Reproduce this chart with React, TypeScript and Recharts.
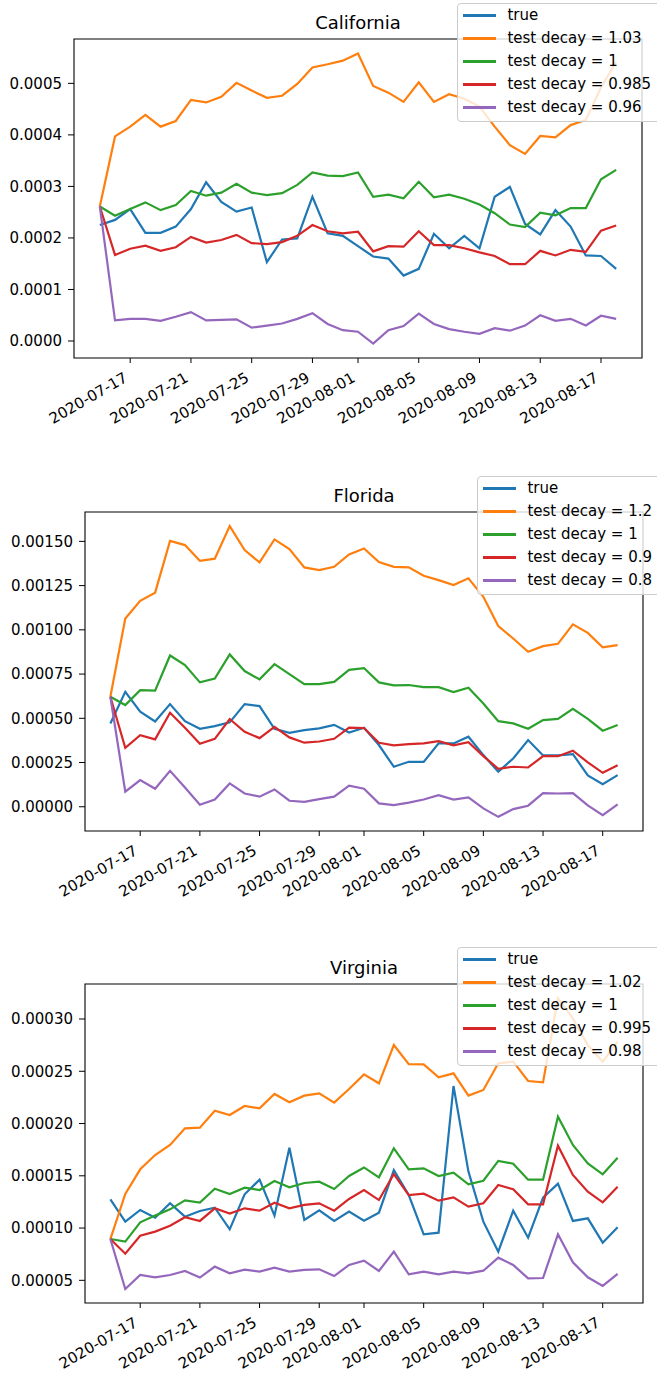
import React from "react"
import { Legend, Line, LineChart, ReferenceArea, XAxis, YAxis } from "recharts"

const dates = [
  "2020-07-15", "2020-07-16", "2020-07-17", "2020-07-18", "2020-07-19", "2020-07-20", "2020-07-21",
  "2020-07-22", "2020-07-23", "2020-07-24", "2020-07-25", "2020-07-26", "2020-07-27", "2020-07-28",
  "2020-07-29", "2020-07-30", "2020-07-31", "2020-08-01", "2020-08-02", "2020-08-03", "2020-08-04",
  "2020-08-05", "2020-08-06", "2020-08-07", "2020-08-08", "2020-08-09", "2020-08-10", "2020-08-11",
  "2020-08-12", "2020-08-13", "2020-08-14", "2020-08-15", "2020-08-16", "2020-08-17", "2020-08-18",
]
const tickLabels = ["2020-07-17", "2020-07-21", "2020-07-25", "2020-07-29", "2020-08-01", "2020-08-05", "2020-08-09", "2020-08-13", "2020-08-17"]

const colors = ["#1f77b4", "#ff7f0e", "#2ca02c", "#d62728", "#9467bd"]

// California
const caNames = ["true", "test decay = 1.03", "test decay = 1", "test decay = 0.985", "test decay = 0.96"]
const caTrue = [2.25e-4, 2.35e-4, 2.56e-4, 2.1e-4, 2.1e-4, 2.22e-4, 2.56e-4, 3.08e-4, 2.7e-4, 2.51e-4, 2.59e-4, 1.53e-4, 1.97e-4, 1.99e-4, 2.8e-4, 2.09e-4, 2.04e-4, 1.84e-4, 1.64e-4, 1.6e-4, 1.27e-4, 1.4e-4, 2.08e-4, 1.8e-4, 2.04e-4, 1.8e-4, 2.8e-4, 2.99e-4, 2.27e-4, 2.07e-4, 2.54e-4, 2.22e-4, 1.66e-4, 1.65e-4, 1.4e-4]
const caHigh = [2.61e-4, 3.97e-4, 4.16e-4, 4.39e-4, 4.16e-4, 4.27e-4, 4.68e-4, 4.63e-4, 4.74e-4, 5.01e-4, 4.86e-4, 4.72e-4, 4.76e-4, 4.99e-4, 5.31e-4, 5.37e-4, 5.44e-4, 5.58e-4, 4.95e-4, 4.82e-4, 4.64e-4, 5.02e-4, 4.64e-4, 4.79e-4, 4.7e-4, 4.55e-4, 4.16e-4, 3.8e-4, 3.63e-4, 3.98e-4, 3.95e-4, 4.19e-4, 4.29e-4, 4.92e-4, 5.42e-4]
const caOne = [2.61e-4, 2.43e-4, 2.56e-4, 2.69e-4, 2.54e-4, 2.64e-4, 2.91e-4, 2.82e-4, 2.88e-4, 3.05e-4, 2.88e-4, 2.83e-4, 2.87e-4, 3.03e-4, 3.27e-4, 3.21e-4, 3.2e-4, 3.27e-4, 2.8e-4, 2.84e-4, 2.77e-4, 3.09e-4, 2.79e-4, 2.84e-4, 2.76e-4, 2.65e-4, 2.48e-4, 2.26e-4, 2.21e-4, 2.49e-4, 2.44e-4, 2.58e-4, 2.58e-4, 3.14e-4, 3.32e-4]
const caMid = [2.61e-4, 1.67e-4, 1.79e-4, 1.85e-4, 1.75e-4, 1.82e-4, 2.02e-4, 1.91e-4, 1.96e-4, 2.06e-4, 1.9e-4, 1.88e-4, 1.92e-4, 2.04e-4, 2.25e-4, 2.13e-4, 2.09e-4, 2.12e-4, 1.74e-4, 1.84e-4, 1.83e-4, 2.13e-4, 1.86e-4, 1.86e-4, 1.8e-4, 1.72e-4, 1.65e-4, 1.49e-4, 1.49e-4, 1.75e-4, 1.66e-4, 1.77e-4, 1.73e-4, 2.14e-4, 2.24e-4]
const caLow = [2.61e-4, 0.4e-4, 0.43e-4, 0.43e-4, 0.39e-4, 0.47e-4, 0.56e-4, 0.4e-4, 0.41e-4, 0.42e-4, 0.26e-4, 0.3e-4, 0.34e-4, 0.43e-4, 0.54e-4, 0.33e-4, 0.21e-4, 0.18e-4, -0.05e-4, 0.21e-4, 0.29e-4, 0.53e-4, 0.33e-4, 0.23e-4, 0.18e-4, 0.14e-4, 0.25e-4, 0.2e-4, 0.3e-4, 0.5e-4, 0.39e-4, 0.43e-4, 0.3e-4, 0.49e-4, 0.43e-4]
const caTicks = [0, 0.0001, 0.0002, 0.0003, 0.0004, 0.0005]

// Florida
const flNames = ["true", "test decay = 1.2", "test decay = 1", "test decay = 0.9", "test decay = 0.8"]
const flTrue = [47.1e-5, 65e-5, 53.7e-5, 48.2e-5, 58e-5, 48.4e-5, 44.1e-5, 45.6e-5, 47.7e-5, 58e-5, 56.9e-5, 44.1e-5, 41.8e-5, 43.3e-5, 44.3e-5, 46.3e-5, 42e-5, 44.7e-5, 34.9e-5, 22.6e-5, 25.4e-5, 25.4e-5, 35.8e-5, 35.8e-5, 39.6e-5, 29.2e-5, 19.8e-5, 27.3e-5, 37.7e-5, 29e-5, 29e-5, 29.8e-5, 17.7e-5, 12.8e-5, 17.9e-5]
const flHigh = [62.2e-5, 106.4e-5, 116.4e-5, 121e-5, 150.3e-5, 147.9e-5, 139e-5, 140.2e-5, 158.6e-5, 145.1e-5, 138.1e-5, 151.1e-5, 145.6e-5, 135.3e-5, 133.8e-5, 135.6e-5, 142.6e-5, 146e-5, 138.3e-5, 135.6e-5, 135.3e-5, 130.6e-5, 128.1e-5, 125.3e-5, 129.1e-5, 118.7e-5, 102.1e-5, 95.1e-5, 87.6e-5, 90.8e-5, 92.1e-5, 103.1e-5, 98.3e-5, 90.1e-5, 91.4e-5]
const flOne = [62.2e-5, 57.5e-5, 65.9e-5, 65.6e-5, 85.5e-5, 80.1e-5, 70.3e-5, 72.5e-5, 86.1e-5, 76.7e-5, 72e-5, 80.6e-5, 75e-5, 69.3e-5, 69.3e-5, 70.6e-5, 77.4e-5, 78.4e-5, 70.3e-5, 68.6e-5, 68.8e-5, 67.6e-5, 67.6e-5, 64.8e-5, 67.3e-5, 58.4e-5, 48.4e-5, 47.1e-5, 44.1e-5, 49e-5, 49.7e-5, 55.4e-5, 49.7e-5, 43e-5, 46.2e-5]
const flMid = [62.2e-5, 33.3e-5, 40.5e-5, 38.1e-5, 53.1e-5, 44.7e-5, 35.6e-5, 38.4e-5, 49.6e-5, 42.4e-5, 38.8e-5, 45.2e-5, 39.2e-5, 36.2e-5, 36.9e-5, 38.4e-5, 44.7e-5, 44.5e-5, 36.2e-5, 34.7e-5, 35.4e-5, 35.8e-5, 37.1e-5, 34.7e-5, 36.5e-5, 28.6e-5, 21.5e-5, 22.6e-5, 22.2e-5, 28.6e-5, 28.6e-5, 31.7e-5, 25.1e-5, 19.2e-5, 23.5e-5]
const flLow = [62.2e-5, 8.5e-5, 15.1e-5, 10.2e-5, 20.3e-5, 10.9e-5, 1.1e-5, 4.1e-5, 13.2e-5, 7.5e-5, 5.7e-5, 9.8e-5, 3.4e-5, 2.8e-5, 4.3e-5, 5.7e-5, 11.9e-5, 10.2e-5, 1.9e-5, 0.9e-5, 2.3e-5, 4.1e-5, 6.6e-5, 4.1e-5, 5.3e-5, -0.9e-5, -5.7e-5, -1.3e-5, 0.6e-5, 7.7e-5, 7.5e-5, 7.7e-5, 0.8e-5, -4.7e-5, 1.3e-5]
const flTicks = [0, 0.00025, 0.0005, 0.00075, 0.001, 0.00125, 0.0015]

// Virginia
const vaNames = ["true", "test decay = 1.02", "test decay = 1", "test decay = 0.995", "test decay = 0.98"]
const vaTrue = [12.75e-5, 10.61e-5, 11.73e-5, 10.99e-5, 12.37e-5, 11.09e-5, 11.63e-5, 11.95e-5, 9.88e-5, 13.23e-5, 14.63e-5, 11.19e-5, 17.69e-5, 10.77e-5, 11.7e-5, 10.68e-5, 11.57e-5, 10.7e-5, 11.47e-5, 15.55e-5, 13.16e-5, 9.4e-5, 9.56e-5, 23.59e-5, 15.4e-5, 10.61e-5, 7.74e-5, 11.66e-5, 9.08e-5, 12.91e-5, 14.25e-5, 10.68e-5, 10.93e-5, 8.6e-5, 10.07e-5]
const vaHigh = [8.95e-5, 13.26e-5, 15.62e-5, 16.99e-5, 17.95e-5, 19.54e-5, 19.6e-5, 21.23e-5, 20.82e-5, 21.68e-5, 21.45e-5, 22.83e-5, 22.03e-5, 22.67e-5, 22.89e-5, 22e-5, 23.3e-5, 24.7e-5, 23.85e-5, 27.51e-5, 25.69e-5, 25.66e-5, 24.42e-5, 24.8e-5, 22.67e-5, 23.21e-5, 25.76e-5, 25.92e-5, 24.07e-5, 23.94e-5, 31.98e-5, 30.06e-5, 27.51e-5, 25.92e-5, 27.83e-5]
const vaOne = [8.95e-5, 8.7e-5, 10.55e-5, 11.19e-5, 11.79e-5, 12.65e-5, 12.43e-5, 13.77e-5, 13.26e-5, 13.86e-5, 13.64e-5, 14.5e-5, 13.9e-5, 14.31e-5, 14.44e-5, 13.74e-5, 14.98e-5, 15.8e-5, 14.85e-5, 17.63e-5, 15.62e-5, 15.71e-5, 14.98e-5, 15.3e-5, 14.18e-5, 14.53e-5, 16.42e-5, 16.16e-5, 14.63e-5, 14.63e-5, 20.66e-5, 17.95e-5, 16.19e-5, 15.14e-5, 16.73e-5]
const vaMid = [8.95e-5, 7.55e-5, 9.27e-5, 9.66e-5, 10.23e-5, 11.03e-5, 10.68e-5, 11.89e-5, 11.38e-5, 11.89e-5, 11.66e-5, 12.43e-5, 11.89e-5, 12.21e-5, 12.37e-5, 11.66e-5, 12.78e-5, 13.64e-5, 12.68e-5, 15.17e-5, 13.16e-5, 13.29e-5, 12.62e-5, 12.94e-5, 12.05e-5, 12.37e-5, 14.12e-5, 13.71e-5, 12.27e-5, 12.27e-5, 17.88e-5, 15.08e-5, 13.48e-5, 12.46e-5, 13.96e-5]
const vaLow = [8.95e-5, 4.17e-5, 5.51e-5, 5.29e-5, 5.51e-5, 5.89e-5, 5.26e-5, 6.31e-5, 5.67e-5, 6.02e-5, 5.83e-5, 6.21e-5, 5.83e-5, 5.99e-5, 6.05e-5, 5.41e-5, 6.47e-5, 6.88e-5, 5.89e-5, 7.74e-5, 5.57e-5, 5.83e-5, 5.57e-5, 5.83e-5, 5.67e-5, 5.92e-5, 7.17e-5, 6.47e-5, 5.19e-5, 5.22e-5, 9.4e-5, 6.72e-5, 5.29e-5, 4.46e-5, 5.61e-5]
const vaTicks = [0.00005, 0.0001, 0.00015, 0.0002, 0.00025, 0.0003]

const FONT = "DejaVu Sans"
const TICK_FS = 15
const WIDTH = 657
const xDomain: [number, number] = [-1.7, 35.7]
const xTicks = tickLabels.map((t) => dates.indexOf(t))

function DateTick(props: any) {
  const { x, y, payload } = props
  // matplotlib: rotated 30deg, right-aligned, box top at tick pad
  const ax = x - 1.7
  const ay = y + 12.1
  return (
    <text x={ax} y={ay} textAnchor="end" fontSize={TICK_FS} fill="#000" fontFamily={FONT} transform={`rotate(-30, ${ax}, ${ay})`}>
      {dates[payload.value]}
    </text>
  )
}

function LegendBox({ names }: { names: string[] }) {
  return (
    <div
      style={{
        boxSizing: "border-box",
        width: 240,
        height: 119,
        border: "1px solid #cccccc",
        borderRadius: 4,
        background: "rgba(255,255,255,0.8)",
        fontFamily: FONT,
        fontSize: TICK_FS,
        color: "#000",
      }}
    >
      {names.map((n, k) => (
        <div key={n} style={{ position: "relative", height: 23, lineHeight: "23px", whiteSpace: "nowrap" }}>
          <span style={{ position: "absolute", left: 4.7, top: 10.4, width: 33, height: 2.2, background: colors[k] }} />
          <span style={{ position: "absolute", left: 49.4, top: 0 }}>{n}</span>
        </div>
      ))}
    </div>
  )
}

type PanelProps = {
  title: string
  names: string[]
  series: number[][]
  top: number
  height: number
  plotTop: number
  plotLeft: number
  plotRight: number
  plotBottom: number
  yDomain: [number, number]
  yTicks: number[]
  decimals: number
  legendLeft: number
  legendTop: number
}

function Panel(p: PanelProps) {
  const data = dates.map((d, i) => {
    const row: Record<string, number | string> = { i, date: d }
    p.series.forEach((vals, k) => {
      row["s" + k] = vals[i]
    })
    return row
  })
  const titleX = (p.plotLeft + p.plotRight) / 2

  return (
    <div style={{ position: "absolute", left: 0, top: p.top }}>
      <LineChart
        width={WIDTH}
        height={p.height}
        data={data}
        margin={{ top: p.plotTop, right: WIDTH - p.plotRight, bottom: 0, left: 0 }}
        style={{ fontFamily: FONT }}
      >
        <XAxis
          dataKey="i"
          type="number"
          domain={xDomain}
          ticks={xTicks}
          interval={0}
          allowDataOverflow
          axisLine={false}
          tickLine={{ stroke: "#000", strokeWidth: 1 }}
          tickSize={5}
          tickMargin={5.5}
          height={p.height - p.plotBottom}
          tick={<DateTick />}
        />
        <YAxis
          type="number"
          domain={p.yDomain}
          ticks={p.yTicks}
          interval={0}
          allowDataOverflow
          axisLine={false}
          tickLine={{ stroke: "#000", strokeWidth: 1 }}
          tickSize={6}
          tickMargin={6}
          width={p.plotLeft}
          tick={{ fill: "#000", fontSize: TICK_FS, fontFamily: FONT }}
          tickFormatter={(v: number) => v.toFixed(p.decimals)}
        />
        {p.series.map((_, k) => (
          <Line
            key={k}
            type="linear"
            dataKey={"s" + k}
            name={p.names[k]}
            stroke={colors[k]}
            strokeWidth={2.2}
            dot={false}
            activeDot={false}
            isAnimationActive={false}
          />
        ))}
        <ReferenceArea
          x1={xDomain[0]}
          x2={xDomain[1]}
          y1={p.yDomain[0]}
          y2={p.yDomain[1]}
          fill="none"
          fillOpacity={0}
          stroke="#000"
          strokeWidth={1.1}
          ifOverflow="visible"
        />
        <text x={titleX} y={p.plotTop - 10} textAnchor="middle" fontSize={18} fontFamily={FONT} fill="#000">
          {p.title}
        </text>
        <Legend
          layout="vertical"
          verticalAlign="middle"
          align="center"
          wrapperStyle={{ left: p.legendLeft, top: p.legendTop, width: 240, height: 119 }}
          content={() => <LegendBox names={p.names} />}
        />
      </LineChart>
    </div>
  )
}

export default function App() {
  return (
    <div style={{ position: "fixed", left: 0, top: 0, width: WIDTH, height: 1376, overflow: "hidden", background: "#fff" }}>
      <Panel
        title="California"
        names={caNames}
        series={[caTrue, caHigh, caOne, caMid, caLow]}
        top={0}
        height={474}
        plotTop={39}
        plotLeft={74}
        plotRight={642}
        plotBottom={358}
        yDomain={[-0.33e-4, 5.861e-4]}
        yTicks={caTicks}
        decimals={4}
        legendLeft={457}
        legendTop={3}
      />
      <Panel
        title="Florida"
        names={flNames}
        series={[flTrue, flHigh, flOne, flMid, flLow]}
        top={474}
        height={474}
        plotTop={38}
        plotLeft={85}
        plotRight={643}
        plotBottom={357}
        yDomain={[-13.7e-5, 166.6e-5]}
        yTicks={flTicks}
        decimals={5}
        legendLeft={477}
        legendTop={2}
      />
      <Panel
        title="Virginia"
        names={vaNames}
        series={[vaTrue, vaHigh, vaOne, vaMid, vaLow]}
        top={947}
        height={429}
        plotTop={37}
        plotLeft={85}
        plotRight={643}
        plotBottom={356}
        yDomain={[2.83e-5, 33.35e-5]}
        yTicks={vaTicks}
        decimals={5}
        legendLeft={457}
        legendTop={0}
      />
    </div>
  )
}
